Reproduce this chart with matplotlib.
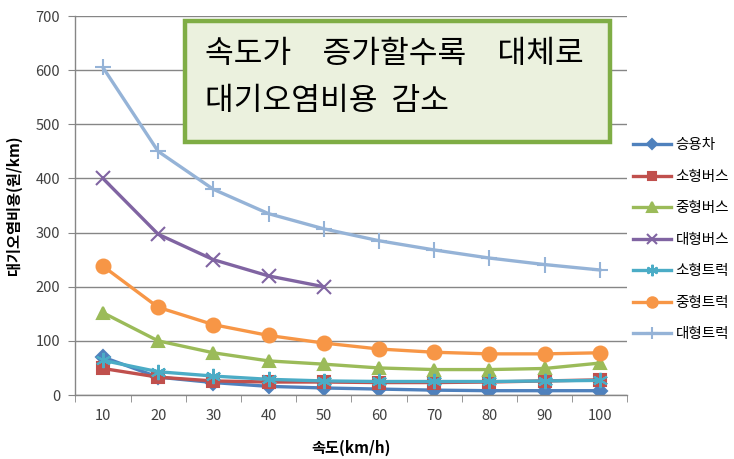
import numpy as np
import matplotlib.pyplot as plt
from matplotlib.patches import Rectangle

plt.rcParams['font.family'] = ['Noto Sans CJK KR', 'DejaVu Sans']

# 속도별 차종 대기오염비용 (원/km)
speeds = ["10", "20", "30", "40", "50", "60", "70", "80", "90", "100"]
승용차 = [70, 33, 23, 16, 13, 11, 9, 8, 8, 8]
소형버스 = [49, 33, 26, 24, 24, 23, 23, 24, 26, 28]
중형버스 = [152, 100, 78, 63, 57, 50, 47, 47, 49, 59]
대형버스 = [400, 297, 250, 220, 200]
소형트럭 = [64, 43, 35, 29, 26, 25, 25, 25, 26, 27]
중형트럭 = [238, 162, 130, 110, 96, 85, 79, 76, 76, 78]
대형트럭 = [605, 450, 380, 335, 307, 285, 268, 253, 241, 231]

series = [
    ("승용차", 승용차, "#4F81BD", "D", 7),
    ("소형버스", 소형버스, "#C0504D", "s", 8),
    ("중형버스", 중형버스, "#9BBB59", "^", 9),
    ("대형버스", 대형버스, "#8064A2", "x", 10),
    ("소형트럭", 소형트럭, "#4BACC6", (6, 2, 0), 11),
    ("중형트럭", 중형트럭, "#F79646", "o", 10),
    ("대형트럭", 대형트럭, "#95B3D7", "+", 12),
]

fig = plt.figure(figsize=(7.34, 4.59), dpi=100)
ax = fig.add_axes([0.1027, 0.1394, 0.752, 0.8256])

x = np.arange(len(speeds))
for name, vals, color, marker, ms in series:
    ax.plot(x[:len(vals)], vals, color=color, lw=2.4, marker=marker,
            markersize=ms, markeredgewidth=1.5, markeredgecolor=color,
            label=name)

ax.set_xlim(-0.5, len(speeds) - 0.5)
ax.set_ylim(0, 700)
ax.set_yticks(np.arange(0, 701, 100))
ax.set_xticks(x)
ax.set_xticklabels(speeds)
ax.set_xticks(np.arange(-0.5, len(speeds), 1), minor=True)
ax.tick_params(axis='x', which='major', length=0, pad=10, labelsize=10.5,
               labelcolor="#404040")
ax.tick_params(axis='x', which='minor', length=5, color="#868686")
ax.tick_params(axis='y', length=5, color="#868686", labelsize=10.5,
               labelcolor="#404040", pad=6)
ax.grid(axis='y', color="#868686", lw=1)
ax.set_axisbelow(True)
for s in ["top", "right"]:
    ax.spines[s].set_visible(False)
for s in ["left", "bottom"]:
    ax.spines[s].set_color("#868686")
    ax.spines[s].set_linewidth(1)

ax.set_xlabel("속도(km/h)", fontsize=11, fontweight="bold", labelpad=12)
ax.set_ylabel("대기오염비용(원/km)", fontsize=11, fontweight="bold", labelpad=10)

ax.legend(loc="center left", bbox_to_anchor=(1.0, 0.41), frameon=False,
          fontsize=10.5, handlelength=2.6, labelspacing=1.2,
          handletextpad=0.3, borderaxespad=0.0, borderpad=0.4,
          markerscale=0.75)

# 설명 상자
box = Rectangle((185 / 734, 1 - 142 / 459), 425 / 734, 121 / 459,
                transform=fig.transFigure, facecolor="#EBF1DE",
                edgecolor="#7FAD45", lw=3.2, zorder=5)
fig.patches.append(box)
fig.text(205 / 734, 1 - 54 / 459, "속도가\u3000증가할수록\u3000대체로",
         fontsize=22.5, va="center", ha="left", zorder=6)
fig.text(205 / 734, 1 - 101 / 459, "대기오염비용  감소",
         fontsize=22.5, va="center", ha="left", zorder=6)

fig.savefig("out.png", dpi=100)
